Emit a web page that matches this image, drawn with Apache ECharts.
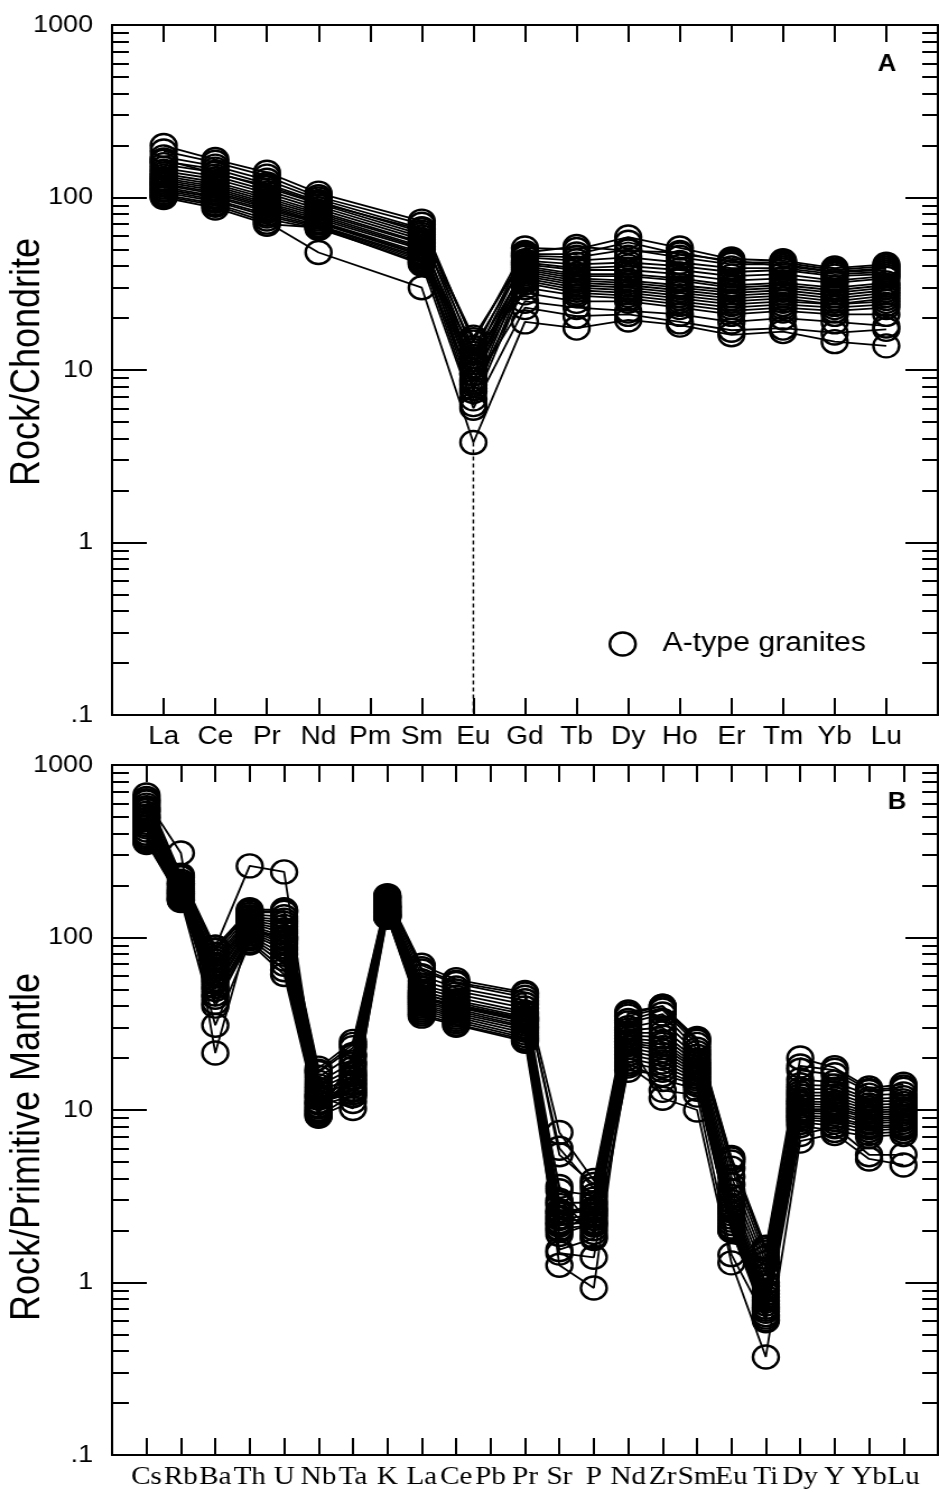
<!DOCTYPE html>
<html>
<head>
<meta charset="utf-8">
<script src="https://cdn.jsdelivr.net/npm/echarts@6/dist/echarts.min.js"></script>
<style>
html,body{margin:0;padding:0;background:#fff;overflow:hidden;}
#chart{width:838px;height:1492px;transform:scaleX(1.120525);transform-origin:0 0;}
</style>
</head>
<body>
<div id="chart"></div>
<script>
// ---- categories ----
const REE = ['La','Ce','Pr','Nd','Pm','Sm','Eu','Gd','Tb','Dy','Ho','Er','Tm','Yb','Lu'];
const SPIDER = ['Cs','Rb','Ba','Th','U','Nb','Ta','K','La','Ce','Pb','Pr','Sr','P','Nd','Zr','Sm','Eu','Ti','Dy','Y','Yb','Lu'];

// ---- y ticks ----
const yMajorTicks = [0.1, 1, 10, 100, 1000];
const yMajorLabels = ['.1', '1', '10', '100', '1000'];
const yMinorTicks = [0.2,0.3,0.4,0.5,0.6,0.7,0.8,0.9, 2,3,4,5,6,7,8,9, 20,30,40,50,60,70,80,90, 200,300,400,500,600,700,800,900];

// ---- panel A: chondrite-normalised REE (Pm not analysed) ----
const A01 = [200, 166, 140, 106, null, 73, 14.5, 51, 50, 59, 51, 44, 43, 39, 41];
const A02 = [186, 160, 133, 101, null, 70, 12.5, 48, 52, 49, 48, 42, 42, 38, 40];
const A03 = [172, 152, 126, 98, null, 66, 15.5, 46, 45, 50, 45, 41, 41, 37, 38];
const A04 = [162, 146, 120, 95, null, 63, 11.5, 45, 43, 45, 42, 39, 39, 36, 37];
const A05 = [155, 140, 114, 92, null, 61, 13.5, 43, 41, 42, 40, 37, 38, 35, 36];
const A06 = [148, 133, 110, 89, null, 59, 9.5, 42, 39, 40, 38, 35, 36, 33, 35];
const A07 = [142, 128, 106, 86, null, 57, 10.5, 41, 38, 38, 36, 33, 34, 32, 34];
const A08 = [137, 123, 102, 83, null, 55, 8.5, 40, 36, 36, 34, 31, 32, 30, 32];
const A09 = [133, 119, 99, 81, null, 54, 12, 39, 35, 35, 33, 30, 31, 29, 31];
const A10 = [129, 116, 96, 79, null, 52, 7.5, 38, 34, 33, 31, 29, 30, 28, 30];
const A11 = [126, 113, 93, 77, null, 51, 9.5, 37, 33, 32, 30, 28, 29, 27, 29];
const A12 = [123, 110, 91, 75, null, 50, 11, 36, 32, 31, 29, 27, 28, 26, 28];
const A13 = [120, 107, 89, 73, null, 48, 6.8, 35, 31, 30, 28, 26, 27, 25, 27];
const A14 = [118, 105, 87, 72, null, 47, 8.8, 34, 30, 29, 27, 25, 26, 24, 26];
const A15 = [115, 102, 85, 71, null, 46, 10.5, 33, 29, 28, 26, 24, 25, 24, 25];
const A16 = [112, 100, 83, 69, null, 45, 6.3, 32, 28, 27, 25, 23, 24, 23, 24];
const A17 = [110, 97, 80, 68, null, 44, 7.8, 30, 27, 26, 24, 22, 23, 22, 23];
const A18 = [107, 95, 78, 67, null, 43, 13, 28, 25, 25, 23, 21, 22, 21, 21];
const A19 = [104, 92, 75, 66, null, 42, 8.2, 25, 23, 22, 21, 19, 20, 19, 18];
const A20 = [102, 90, 72, 48, null, 30, 3.8, 19, 17.5, 19.5, 18.2, 16, 16.7, 14.6, 13.8];
const A21 = [100, 87, 70, 67, null, 41, 6.0, 23, 20.5, 21, 19, 17, 17.5, 16.4, 17.2];
const A22 = [165, 138, 117, 93, null, 65, 15, 47, 47, 55, 47, 43, 40, 37, 39];
const reeSamples = [A01,A02,A03,A04,A05,A06,A07,A08,A09,A10,A11,A12,A13,A14,A15,A16,A17,A18,A19,A20,A21,A22];
// dashed drop line at Eu (from lowest Eu value to the axis floor)
const euDrop = [3.8, 0.1];

// ---- panel B: primitive-mantle-normalised trace elements (Pb not analysed) ----
const B01 = [670, 230, 88, 145, 145, 17.5, 25, 175, 69, 57, null, 48, 7.4, 3.9, 37, 40, 26, 5.3, 1.6, 20, 17.6, 13.4, 14.1];
const B02 = [640, 222, 84, 140, 140, 16.5, 23, 170, 64, 54, null, 45, 6.0, 3.5, 35, 39, 25, 5.0, 1.5, 17, 16, 12.8, 13.2];
const B03 = [610, 212, 80, 136, 132, 15.5, 21, 166, 60, 51, null, 43, 3.4, 3.2, 33, 38, 24, 4.6, 1.4, 15, 14.5, 12.2, 12.4];
const B04 = [585, 206, 76, 132, 126, 14.5, 19, 162, 56, 49, null, 41, 2.9, 2.9, 32, 36, 22.5, 4.1, 1.3, 14, 13.8, 11.6, 11.8];
const B05 = [565, 201, 73, 129, 121, 13.8, 17.5, 159, 53, 47, null, 39, 2.6, 2.7, 30, 33, 21.5, 3.7, 1.2, 13.2, 13.2, 11.2, 11.3];
const B06 = [545, 196, 70, 126, 116, 13.2, 16.5, 156, 51, 45, null, 37, 2.5, 2.6, 29, 30, 20.5, 3.4, 1.1, 12.6, 12.6, 10.7, 10.9];
const B07 = [525, 192, 68, 123, 111, 12.7, 15.5, 153, 49, 43, null, 36, 2.35, 2.45, 28, 28, 19.5, 3.15, 1.0, 12.1, 12.1, 10.3, 10.5];
const B08 = [505, 189, 65, 121, 106, 12.2, 14.5, 151, 47, 42, null, 34.5, 2.25, 2.35, 27, 26.5, 18.8, 2.95, 0.95, 11.6, 11.6, 10, 10.1];
const B09 = [485, 186, 62, 118, 101, 11.7, 13.8, 148, 45.5, 40.5, null, 33.5, 2.15, 2.25, 26, 25, 18.2, 2.8, 0.9, 11.2, 11.1, 9.7, 9.8];
const B10 = [465, 183, 60, 115, 98, 11.2, 13.2, 146, 44, 39.5, null, 32.5, 2.05, 2.15, 25, 24, 17.6, 2.7, 0.86, 10.9, 10.7, 9.4, 9.5];
const B11 = [450, 180, 57, 112, 95, 11, 12.6, 143, 43, 38.5, null, 31.5, 3.6, 2.05, 24.5, 23, 17.1, 2.6, 0.82, 10.5, 10.4, 9.1, 9.2];
const B12 = [438, 178, 55, 110, 92, 10.6, 12.1, 141, 42, 37.5, null, 30.5, 3.0, 1.95, 24, 22, 16.6, 2.5, 0.78, 10.1, 10.1, 8.9, 9];
const B13 = [420, 175, 52, 108, 88, 10.4, 14.2, 139, 41, 36.5, null, 30, 2.8, 1.85, 23, 21, 16.1, 2.4, 0.75, 9.9, 9.8, 8.6, 8.8];
const B14 = [402, 172, 50, 105, 85, 10.1, 15.2, 137, 40, 35.5, null, 29, 2.6, 2.65, 22, 20, 15.6, 2.3, 0.72, 9.6, 9.5, 8.4, 8.5];
const B15 = [390, 170, 47, 102, 80, 9.9, 16.2, 135, 39, 34.5, null, 28, 2.4, 2.85, 21, 19, 15.1, 2.2, 0.7, 9.3, 9.1, 8.1, 8.2];
const B16 = [380, 168, 45, 100, 75, 9.7, 18.5, 134, 38, 33.5, null, 27, 2.2, 3.05, 20, 18, 14.6, 2.1, 0.68, 9.1, 8.8, 7.9, 8];
const B17 = [370, 166, 42, 98, 70, 9.5, 20.5, 133, 37, 32.5, null, 26.2, 2.0, 2.5, 19, 17, 14.1, 2.0, 0.65, 8.8, 8.5, 7.6, 7.8];
const B18 = [362, 165, 40, 95, 65, 9.3, 12.2, 132, 36, 31.5, null, 25.6, 1.9, 2.2, 18.5, 15, 13.2, 2.05, 0.63, 8.5, 8.1, 7.3, 7.5];
const B19 = [355, 164, 31, 93, 61, 9.2, 11.2, 131, 35, 31, null, 25, 1.48, 1.4, 18, 13, 12.2, 1.45, 0.61, 8.1, 7.6, 7, 7.2];
const B20 = [500, 205, 88, 260, 240, 12, 10.2, 150, 48, 41, null, 34, 1.26, 0.93, 25, 11.7, 10, 1.3, 0.37, 6.6, 7.3, 5.2, 4.8];
const B21 = [620, 309, 21.4, 110, 100, 11, 13, 140, 45, 40, null, 33, 1.55, 1.8, 17, 16, 14, 2.0, 0.6, 7.2, 8, 5.5, 5.5];
const B22 = [550, 225, 85, 142, 142, 16.8, 24, 172, 66, 55, null, 47, 5.5, 3.7, 36, 40, 25.5, 5.2, 1.55, 18, 17, 13, 13.6];
const spiderSamples = [B01,B02,B03,B04,B05,B06,B07,B08,B09,B10,B11,B12,B13,B14,B15,B16,B17,B18,B19,B20,B21,B22];

const SERIES_NAME = 'A-type granites';

// ---- build options ----
const SANS = 'Liberation Sans';
const SERIF = 'Liberation Serif';
const BLACK = '#000';

function padCats(list) { return [''].concat(list, [' ']); }

function xAxes(gridIndex, cats, labelFont, labelSize, labelMargin) {
  const data = padCats(cats);
  const base = {
    type: 'category', gridIndex: gridIndex, data: data, boundaryGap: false,
    axisLine: { show: true, onZero: false, lineStyle: { color: BLACK, width: 2 } },
    axisTick: { show: true, inside: true, length: 17, interval: 0, lineStyle: { color: BLACK, width: 2 } },
    splitLine: { show: false }
  };
  return [
    Object.assign({}, base, {
      position: 'bottom',
      axisLabel: { show: true, interval: 0, hideOverlap: false, margin: labelMargin, color: BLACK,
        fontFamily: labelFont, fontSize: labelSize }
    }),
    Object.assign({}, base, { position: 'top', axisLabel: { show: false } })
  ];
}

function yAxes(gridIndex, name, namePadding) {
  const base = {
    type: 'log', logBase: 10, min: 0.1, max: 1000, gridIndex: gridIndex,
    splitLine: { show: false }, minorTick: { show: false }, minorSplitLine: { show: false }
  };
  return [
    Object.assign({}, base, {
      position: 'left',
      name: name, nameLocation: 'middle', nameGap: 57, nameRotate: 90, nameMoveOverlap: false,
      nameTextStyle: { fontFamily: SANS, fontSize: 36, color: BLACK, padding: namePadding },
      axisLine: { show: true, lineStyle: { color: BLACK, width: 2 } },
      axisTick: { show: true, inside: true, length: 31, customValues: yMajorTicks, lineStyle: { color: BLACK, width: 2 } },
      axisLabel: { show: true, margin: 17, color: BLACK, fontFamily: SANS, fontSize: 24,
        customValues: yMajorTicks,
        formatter: function (v) { const i = yMajorTicks.findIndex(t => Math.abs(t - v) < 1e-9 * Math.max(1, t)); return i >= 0 ? yMajorLabels[i] : ''; } }
    }),
    Object.assign({}, base, {
      position: 'left',
      axisLine: { show: false },
      axisTick: { show: true, inside: true, length: 15, customValues: yMinorTicks, lineStyle: { color: BLACK, width: 2 } },
      axisLabel: { show: false }
    }),
    Object.assign({}, base, {
      position: 'right',
      axisLine: { show: true, lineStyle: { color: BLACK, width: 2 } },
      axisTick: { show: true, inside: true, length: 29, customValues: yMajorTicks, lineStyle: { color: BLACK, width: 2 } },
      axisLabel: { show: false }
    }),
    Object.assign({}, base, {
      position: 'right',
      axisLine: { show: false },
      axisTick: { show: true, inside: true, length: 14, customValues: yMinorTicks, lineStyle: { color: BLACK, width: 2 } },
      axisLabel: { show: false }
    })
  ];
}

function sampleSeries(cats, values, xIdx, yIdx) {
  return {
    type: 'line', name: SERIES_NAME, xAxisIndex: xIdx, yAxisIndex: yIdx,
    data: cats.map((c, i) => [c, values[i]]),
    connectNulls: true,
    symbol: 'circle', symbolSize: 23,
    lineStyle: { color: BLACK, width: 1.8 },
    itemStyle: { color: 'rgba(0,0,0,0)', borderColor: BLACK, borderWidth: 2.4 },
    emphasis: { disabled: true }, silent: true, animation: false
  };
}

const series = [];
reeSamples.forEach(s => series.push(sampleSeries(REE, s, 0, 0)));
series.push({
  type: 'line', name: 'Eu', xAxisIndex: 0, yAxisIndex: 0,
  data: euDrop.map(v => ['Eu', v]),
  symbol: 'none', silent: true,
  lineStyle: { color: BLACK, width: 1.5, type: [4, 3] }
});
spiderSamples.forEach(s => series.push(sampleSeries(SPIDER, s, 2, 4)));

const option = {
  animation: false,
  backgroundColor: '#fff',
  grid: [
    { left: 100, right: 1, top: 25, height: 690, outerBoundsMode: 'none', containLabel: false },
    { left: 100, right: 1, top: 765, height: 690, outerBoundsMode: 'none', containLabel: false }
  ],
  xAxis: [].concat(xAxes(0, REE, SANS, 25, 10), xAxes(1, SPIDER, SERIF, 26, 9)),
  yAxis: [].concat(yAxes(0, 'Rock/Chondrite', [0, 0, 0, 16]), yAxes(1, 'Rock/Primitive Mantle', [0, 74, 0, 0])),
  legend: {
    data: [{ name: SERIES_NAME, icon: 'circle',
      itemStyle: { color: 'rgba(0,0,0,0)', borderColor: BLACK, borderWidth: 2.4 } }],
    left: 543, top: 630.5, padding: 0,
    itemWidth: 23, itemHeight: 23,
    selectedMode: false,
    textStyle: { fontFamily: SANS, fontSize: 27, color: BLACK, padding: [0, 0, 0, 19] }
  },
  graphic: [
    { type: 'text', x: 791.6, y: 65, silent: true,
      style: { text: 'A', font: 'bold 23px "Liberation Sans"', fill: BLACK, textAlign: 'center', textVerticalAlign: 'middle' } },
    { type: 'text', x: 800.5, y: 803, silent: true,
      style: { text: 'B', font: 'bold 23px "Liberation Sans"', fill: BLACK, textAlign: 'center', textVerticalAlign: 'middle' } }
  ],
  series: series
};

const chart = echarts.init(document.getElementById('chart'), null, { renderer: 'canvas' });
chart.setOption(option);
</script>
</body>
</html>
